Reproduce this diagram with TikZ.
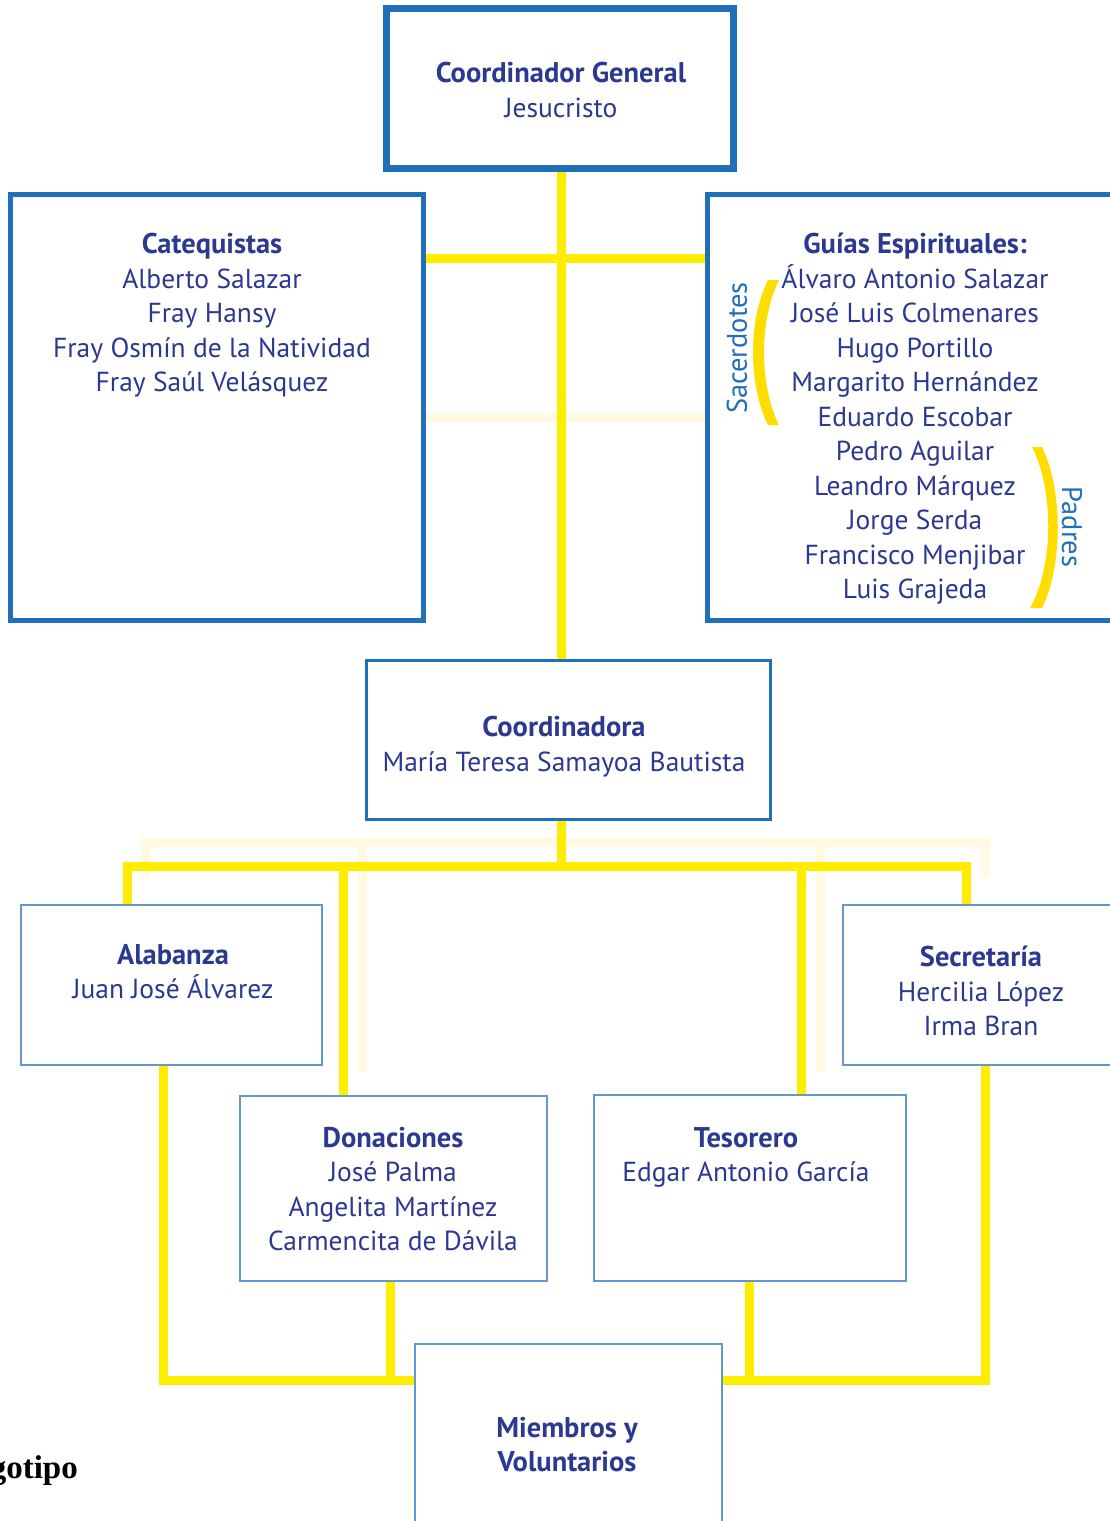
\documentclass[tikz,border=0pt]{standalone}
\usepackage{fontspec}
\setmainfont{PT Sans}
\newfontfamily\tnr{Liberation Serif}
\usetikzlibrary{calc}
\definecolor{navy}{RGB}{43,57,144}
\definecolor{boxblue}{RGB}{31,112,185}
\definecolor{thinblue}{RGB}{100,150,210}
\definecolor{yel}{RGB}{255,237,0}
\definecolor{brk}{RGB}{255,221,0}
\definecolor{pale}{RGB}{255,250,225}
\tikzset{
  yline/.style={draw=yel, line width=9pt, line join=miter},
  paleline/.style={draw=pale, line width=9pt, line join=miter},
  bigbox/.style={draw=boxblue, line width=7pt, fill=white, inner sep=0pt},
  midbox/.style={draw=boxblue, line width=5pt, fill=white, inner sep=0pt},
  crdbox/.style={draw=boxblue, line width=3pt, fill=white, inner sep=0pt},
  thinbox/.style={draw=thinblue, line width=1.5pt, fill=white, inner sep=0pt},
  txt/.style={text=navy, align=center, anchor=north, inner sep=0pt, font=\fontsize{27.5}{34.5}\selectfont},
  side/.style={text=boxblue, inner sep=0pt, font=\fontsize{28.4}{30}\selectfont},
  brack/.style={fill=brk, draw=none}
}
\newcommand{\hd}[1]{{\bfseries\fontsize{28.5}{34.5}\selectfont #1}}
\begin{document}
\begin{tikzpicture}[x=1pt,y=-1pt]
\useasboundingbox (0,0) rectangle (1110,1521);
% boxes
\node[bigbox, minimum width=347pt, minimum height=160pt] (top) at (560,88.5) {};
\node[midbox, minimum width=413pt, minimum height=426pt] (cat) at (217,407.5) {};
\node[midbox, minimum width=408pt, minimum height=426pt] (gui) at (911.5,407.5) {};
\node[crdbox, minimum width=404pt, minimum height=159pt] (crd) at (568.5,740) {};
\node[thinbox, minimum width=301pt, minimum height=160pt] (alab) at (171.5,985) {};
\node[thinbox, minimum width=272pt, minimum height=160pt] (sec) at (979,985) {};
\node[thinbox, minimum width=307pt, minimum height=185pt] (don) at (393.5,1188.5) {};
\node[thinbox, minimum width=312pt, minimum height=186pt] (tes) at (750,1188) {};
\node[thinbox, minimum width=307pt, minimum height=186pt] (mie) at (568.5,1437) {};
% junction coordinates
\coordinate (jv) at (561,258);
\coordinate (jp) at (561,417);
\coordinate (bus) at (561,866);
\coordinate (bL) at (127,866);
\coordinate (bD) at (343.5,866);
\coordinate (bT) at (801.5,866);
\coordinate (bR) at (966.5,866);
\coordinate (pL) at (145,842);
\coordinate (pD) at (362,842);
\coordinate (pT) at (820,842);
\coordinate (pR) at (985,842);
\coordinate (mL) at (163.5,1380);
\coordinate (mD) at (390,1380);
\coordinate (mT) at (749,1380);
\coordinate (mR) at (985,1380);
% pale shadow lines
\draw[paleline] (cat.east |- jp) -- (gui.west |- jp);
\draw[paleline] ($(pL)+(0,36)$) -- (pL) -- (pR) -- ($(pR)+(0,36)$);
\draw[paleline] (pD) -- ($(pD)+(0,230)$);
\draw[paleline] (pT) -- ($(pT)+(0,230)$);
% yellow connectors
\draw[yline] (top.south -| jv) -- (crd.north -| jv);
\draw[yline] (cat.east |- jv) -- (gui.west |- jv);
\draw[yline] (crd.south -| bus) -- (bus);
\draw[yline] (alab.north -| bL) -- (bL) -- (bR) -- (sec.north -| bR);
\draw[yline] (bD) -- (don.north -| bD);
\draw[yline] (bT) -- (tes.north -| bT);
\draw[yline] (alab.south -| mL) -- (mL) -- (mie.west |- mL);
\draw[yline] (don.south -| mD) -- (mD);
\draw[yline] (tes.south -| mT) -- (mT);
\draw[yline] (mie.east |- mR) -- (mR) -- (sec.south -| mR);
% texts
\node[txt] (ttop) at (561,62) {\hd{Coordinador General}\\Jesucristo};
\node[txt] (tcat) at (212,233) {\hd{Catequistas}\\Alberto Salazar\\Fray Hansy\\Fray Osmín de la Natividad\\Fray Saúl Velásquez};
\node[txt] (tgui) at (915,233) {\hd{Guías Espirituales:}\\Álvaro Antonio Salazar\\José Luis Colmenares\\Hugo Portillo\\Margarito Hernández\\Eduardo Escobar\\Pedro Aguilar\\Leandro Márquez\\Jorge Serda\\Francisco Menjibar\\Luis Grajeda};
\node[txt] (tcrd) at (564,716) {\hd{Coordinadora}\\María Teresa Samayoa Bautista};
\node[txt] (talab) at (173,944) {\hd{Alabanza}\\Juan José Álvarez};
\node[txt] (tsec) at (981,946) {\hd{Secretaría}\\Hercilia López\\Irma Bran};
\node[txt] (tdon) at (393,1127) {\hd{Donaciones}\\José Palma\\Angelita Martínez\\Carmencita de Dávila};
\node[txt] (ttes) at (746,1127) {\hd{Tesorero}\\Edgar Antonio García};
\node[txt] (tmie) at (567,1417) {\hd{Miembros y}\\\hd{Voluntarios}};
% side labels and brackets
\node[side, rotate=90] (sac) at (737,348) {Sacerdotes};
\node[side, rotate=-90] (pad) at (1072,527) {Padres};
\fill[brack] (779,280) .. controls (759,320) and (759,385) .. (779,425) -- (768,425) .. controls (748,385) and (748,320) .. (768,280) -- cycle;
\fill[brack] (1032,447) .. controls (1054,490) and (1054,565) .. (1030,608) -- (1042,608) .. controls (1063,565) and (1063,490) .. (1042,447) -- cycle;
% cut-off caption
\node[anchor=base east, inner sep=0pt, font=\tnr\bfseries\fontsize{33}{36}\selectfont] (logo) at (78,1478) {gotipo};
\end{tikzpicture}
\end{document}
